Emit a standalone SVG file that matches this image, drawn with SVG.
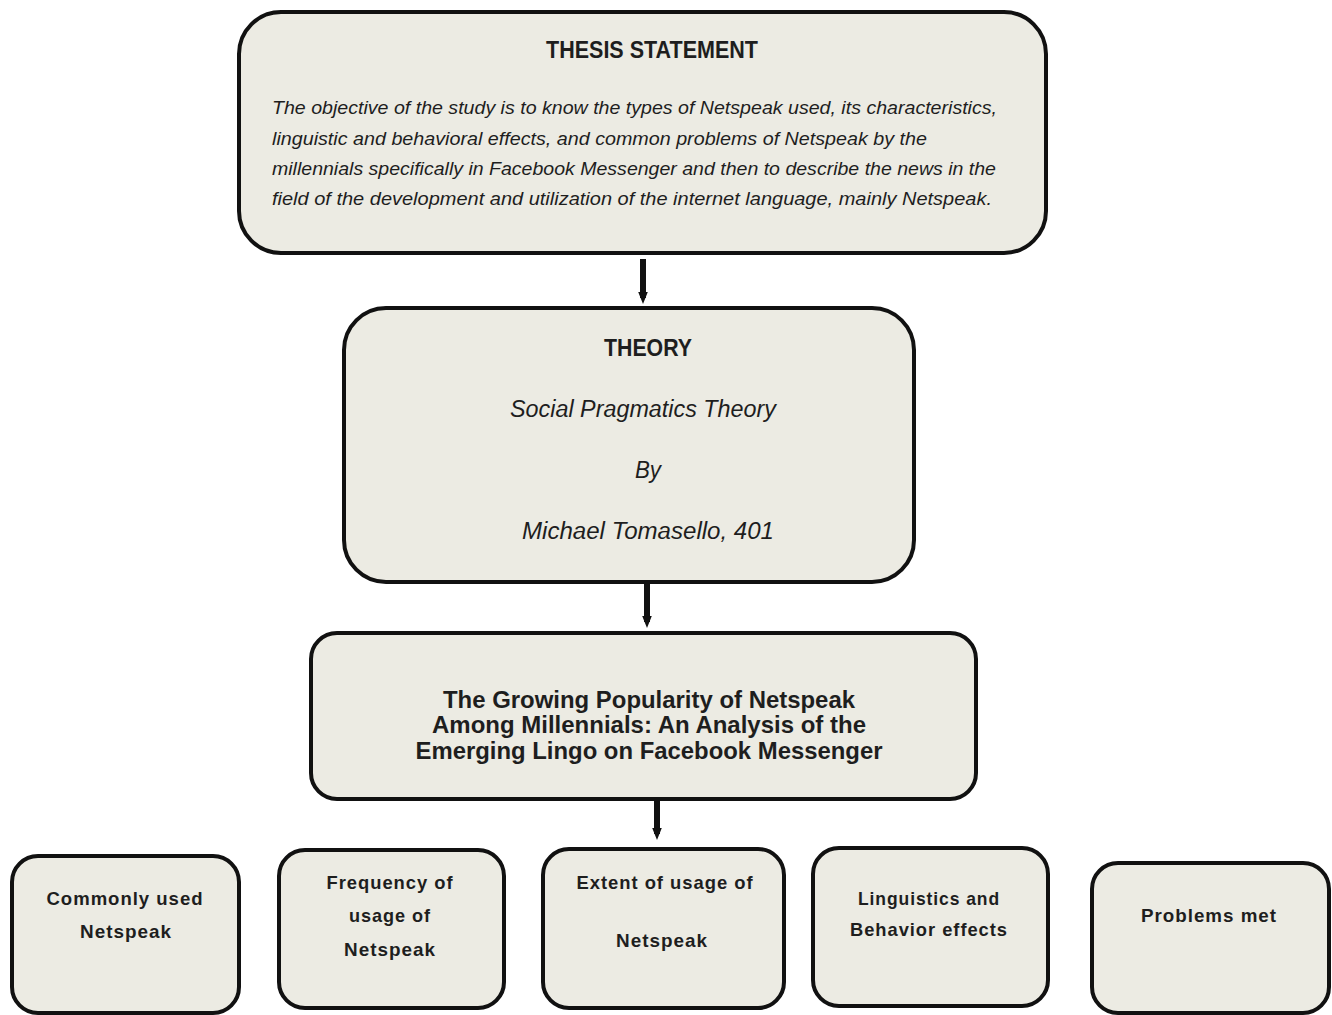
<svg xmlns="http://www.w3.org/2000/svg" width="1332" height="1015" viewBox="0 0 1332 1015">
<defs>
<style>
.box{fill:#ecebe3;stroke:#111;stroke-width:4}
.t{font-family:"Liberation Sans",Arial,sans-serif;fill:#1e1e1e}
.hd{font-weight:bold;font-size:23px;text-anchor:middle}
.it{font-style:italic;font-size:19px}
.th{font-style:italic;font-size:23px;text-anchor:middle}
.ti{font-weight:bold;font-size:24px;text-anchor:middle}
.sm{font-weight:bold;font-size:19px;text-anchor:middle;letter-spacing:1px}
.conn{stroke:#111;stroke-width:6;fill:none}
</style>
<marker id="ah" viewBox="0 0 10 10" refX="5" refY="5" markerWidth="2" markerHeight="2" orient="auto" markerUnits="strokeWidth">
<path d="M0,1 L10,5 L0,9 z" fill="#111"/>
</marker>
</defs>
<rect width="1332" height="1015" fill="#ffffff"/>
<g id="connectors">
<line class="conn" x1="643" y1="259" x2="643" y2="298" marker-end="url(#ah)"/>
<line class="conn" x1="647" y1="584" x2="647" y2="622" marker-end="url(#ah)"/>
<line class="conn" x1="657" y1="801" x2="657" y2="834" marker-end="url(#ah)"/>
</g>
<g id="thesis">
<rect class="box" x="239" y="12" width="807" height="241" rx="42"/>
<text class="t hd" x="652" y="58" textLength="212" lengthAdjust="spacingAndGlyphs">THESIS STATEMENT</text>
<text class="t it" x="272" y="114" textLength="725" lengthAdjust="spacingAndGlyphs">The objective of the study is to know the types of Netspeak used, its characteristics,</text>
<text class="t it" x="272" y="145" textLength="655" lengthAdjust="spacingAndGlyphs">linguistic and behavioral effects, and common problems of Netspeak by the</text>
<text class="t it" x="272" y="175" textLength="724" lengthAdjust="spacingAndGlyphs">millennials specifically in Facebook Messenger and then to describe the news in the</text>
<text class="t it" x="272" y="205" textLength="720" lengthAdjust="spacingAndGlyphs">field of the development and utilization of the internet language, mainly Netspeak.</text>
</g>
<g id="theory">
<rect class="box" x="344" y="308" width="570" height="274" rx="42"/>
<text class="t hd" x="648" y="356" textLength="88" lengthAdjust="spacingAndGlyphs">THEORY</text>
<text class="t th" x="643" y="417" textLength="266" lengthAdjust="spacingAndGlyphs">Social Pragmatics Theory</text>
<text class="t th" x="648" y="478" textLength="26" lengthAdjust="spacingAndGlyphs">By</text>
<text class="t th" x="648" y="539" textLength="252" lengthAdjust="spacingAndGlyphs">Michael Tomasello, 401</text>
</g>
<g id="title">
<rect class="box" x="311" y="633" width="665" height="166" rx="26"/>
<text class="t ti" x="649" y="708" textLength="412" lengthAdjust="spacingAndGlyphs">The Growing Popularity of Netspeak</text>
<text class="t ti" x="649" y="733" textLength="434" lengthAdjust="spacingAndGlyphs">Among Millennials: An Analysis of the</text>
<text class="t ti" x="649" y="759" textLength="467" lengthAdjust="spacingAndGlyphs">Emerging Lingo on Facebook Messenger</text>
</g>
<g id="commonly-used">
<rect class="box" x="12" y="856" width="227" height="157" rx="26"/>
<text class="t sm" x="125" y="905" textLength="157" lengthAdjust="spacingAndGlyphs">Commonly used</text>
<text class="t sm" x="126" y="938" textLength="92" lengthAdjust="spacingAndGlyphs">Netspeak</text>
</g>
<g id="frequency">
<rect class="box" x="279" y="850" width="225" height="158" rx="26"/>
<text class="t sm" x="390" y="889" textLength="127" lengthAdjust="spacingAndGlyphs">Frequency of</text>
<text class="t sm" x="390" y="922" textLength="82" lengthAdjust="spacingAndGlyphs">usage of</text>
<text class="t sm" x="390" y="956" textLength="92" lengthAdjust="spacingAndGlyphs">Netspeak</text>
</g>
<g id="extent">
<rect class="box" x="543" y="849" width="241" height="159" rx="26"/>
<text class="t sm" x="665" y="889" textLength="177" lengthAdjust="spacingAndGlyphs">Extent of usage of</text>
<text class="t sm" x="662" y="947" textLength="92" lengthAdjust="spacingAndGlyphs">Netspeak</text>
</g>
<g id="linguistics">
<rect class="box" x="813" y="848" width="235" height="158" rx="26"/>
<text class="t sm" x="929" y="905" textLength="142" lengthAdjust="spacingAndGlyphs">Linguistics and</text>
<text class="t sm" x="929" y="936" textLength="158" lengthAdjust="spacingAndGlyphs">Behavior effects</text>
</g>
<g id="problems">
<rect class="box" x="1092" y="863" width="237" height="150" rx="26"/>
<text class="t sm" x="1209" y="922" textLength="136" lengthAdjust="spacingAndGlyphs">Problems met</text>
</g>
</svg>
